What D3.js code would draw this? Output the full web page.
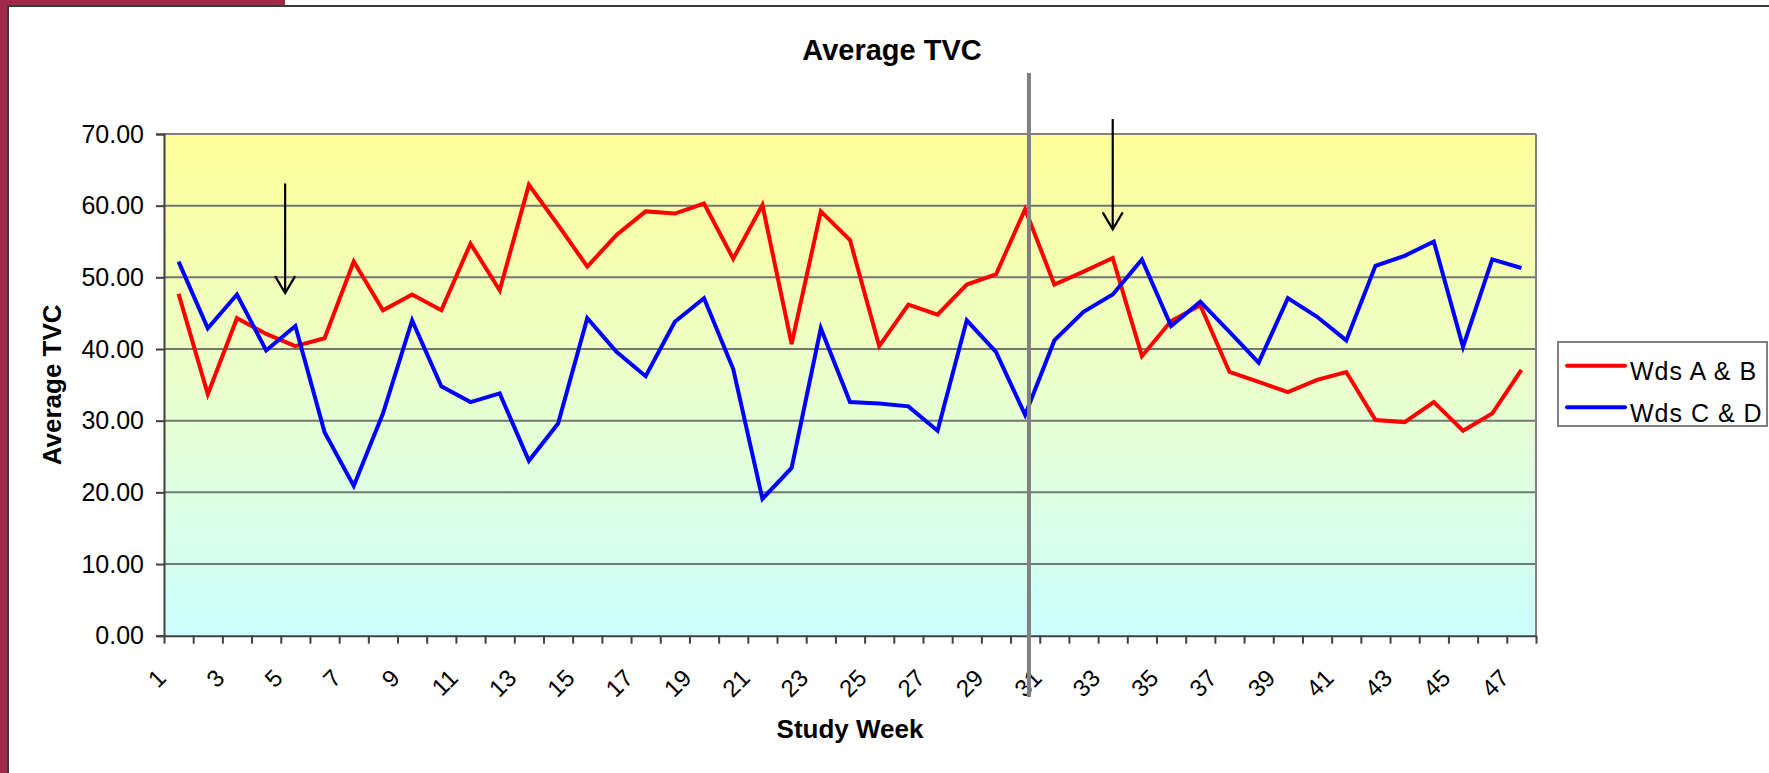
<!DOCTYPE html>
<html>
<head>
<meta charset="utf-8">
<script src="https://cdn.jsdelivr.net/npm/d3@7"></script>
<style>
  html, body { margin: 0; padding: 0; background: #fff; }
  svg { display: block; }
  text { font-family: "Liberation Sans", Arial, sans-serif; fill: #000; }
</style>
</head>
<body>
<svg id="chart" width="1769" height="773"></svg>
<script>
// ---- data ----
const weeks = [1,2,3,4,5,6,7,8,9,10,11,12,13,14,15,16,17,18,19,20,21,22,23,24,25,26,27,28,29,30,31,32,33,34,35,36,37,38,39,40,41,42,43,44,45,46,47];
const wdsAB = [47.7,33.7,44.3,42.1,40.4,41.5,52.2,45.4,47.6,45.4,54.7,48.2,
               62.9,57.3,51.5,55.9,59.2,58.9,60.3,52.6,60.1,40.7,59.2,55.2,
               40.4,46.2,44.8,49.0,50.4,59.5,49.0,50.8,52.7,39.0,43.9,
               46.1,36.8,35.4,34.0,35.7,36.8,30.1,29.8,32.6,28.6,31.0,37.1];
const wdsCD = [52.2,42.9,47.6,39.8,43.2,28.4,20.9,31.0,44.0,34.8,32.6,33.8,
               24.4,29.6,44.3,39.6,36.2,43.8,47.1,37.2,19.1,23.4,42.9,32.6,
               32.4,32.0,28.6,44.0,39.6,30.8,41.2,45.2,47.6,52.5,43.2,
               46.6,42.4,38.1,47.1,44.5,41.2,51.6,53.0,55.0,40.3,52.5,51.3];
const seriesNames = ["Wds A & B", "Wds C & D"];
const yTicks = [0,10,20,30,40,50,60,70];
const xLabelWeeks = [1,3,5,7,9,11,13,15,17,19,21,23,25,27,29,31,33,35,37,39,41,43,45,47];
// annotations (in data units: week, TVC)
const dividerWeek = 30.13, dividerTop = 78.5, dividerBottom = -8.55;
const arrowWeeks = [4.65, 33.0];
const arrowTops = [63.1, 72.1];
const arrowTips = [47.8, 56.7];
const chartTitle = "Average TVC";
const xTitle = "Study Week";
const yTitle = "Average TVC";

// ---- layout ----
const svg = d3.select("#chart");
const plot = {left: 164, right: 1536, top: 134, bottom: 635.7};
const x = d3.scaleLinear().domain([0.5, 47.5]).range([plot.left, plot.right]);
const y = d3.scaleLinear().domain([0, 70]).range([plot.bottom, plot.top]);
const colors = ["#FF0000", "#0000FF"];

// outer frame
svg.append("rect").attr("x", 0).attr("y", 0).attr("width", 1769).attr("height", 773).attr("fill", "#fff");
svg.append("rect").attr("x", 0).attr("y", 0).attr("width", 7).attr("height", 773).attr("fill", "#9E2A48");
svg.append("rect").attr("x", 0).attr("y", 0).attr("width", 285).attr("height", 5).attr("fill", "#9E2A48");
svg.append("line").attr("x1", 7).attr("x2", 1769).attr("y1", 6).attr("y2", 6).attr("stroke", "#3a3a3a").attr("stroke-width", 2);
svg.append("line").attr("x1", 8).attr("x2", 8).attr("y1", 5).attr("y2", 773).attr("stroke", "#3a3a3a").attr("stroke-width", 2);

// gradient background
const defs = svg.append("defs");
const grad = defs.append("linearGradient").attr("id", "bg").attr("x1", 0).attr("y1", 0).attr("x2", 0).attr("y2", 1);
grad.append("stop").attr("offset", "0%").attr("stop-color", "#FFFF99");
grad.append("stop").attr("offset", "50%").attr("stop-color", "#EAFFCC");
grad.append("stop").attr("offset", "100%").attr("stop-color", "#CCFFFF");
svg.append("rect")
  .attr("x", plot.left).attr("y", plot.top)
  .attr("width", plot.right - plot.left).attr("height", plot.bottom - plot.top)
  .attr("fill", "url(#bg)");

// gridlines
svg.append("g").selectAll("line").data(yTicks.filter(d => d > 0)).join("line")
  .attr("x1", plot.left).attr("x2", plot.right)
  .attr("y1", d => y(d)).attr("y2", d => y(d))
  .attr("stroke", "#707870").attr("stroke-width", 2);

// plot border (top / right)
svg.append("line").attr("x1", plot.left).attr("x2", plot.right).attr("y1", y(70)).attr("y2", y(70))
  .attr("stroke", "#808080").attr("stroke-width", 2);
svg.append("line").attr("x1", plot.right).attr("x2", plot.right).attr("y1", plot.top).attr("y2", plot.bottom)
  .attr("stroke", "#808080").attr("stroke-width", 2);

// y axis
const yAxis = d3.axisLeft(y).tickValues(yTicks).tickFormat(d3.format(".2f")).tickSize(8).tickPadding(12);
const gy = svg.append("g").attr("transform", `translate(${plot.left},0)`).call(yAxis);
gy.select(".domain").attr("stroke", "#404040").attr("stroke-width", 2);
gy.selectAll(".tick line").attr("stroke", "#404040").attr("stroke-width", 2);
gy.selectAll(".tick text").style("font-size", "25px").attr("font-family", null).attr("fill", "#000");

// x axis (category boundaries as ticks)
const boundaries = weeks.map(w => w - 0.5).concat([weeks[weeks.length - 1] + 0.5]);
const xAxis = d3.axisBottom(x).tickValues(boundaries).tickFormat("").tickSize(8).tickSizeOuter(0);
const gx = svg.append("g").attr("transform", `translate(0,${plot.bottom})`).call(xAxis);
gx.select(".domain").attr("stroke", "#404040").attr("stroke-width", 2);
gx.selectAll(".tick line").attr("stroke", "#404040").attr("stroke-width", 2);

// x labels rotated
svg.append("g").selectAll("text").data(xLabelWeeks).join("text")
  .attr("transform", d => `translate(${x(d) - 17},${plot.bottom + 38}) rotate(-45)`)
  .attr("text-anchor", "end")
  .attr("dy", "0.35em")
  .style("font-size", "24px")
  .text(d => d);

// series lines
const lineGen = d3.line().x((d, i) => x(weeks[i])).y(d => y(d)).curve(d3.curveLinear);
[wdsAB, wdsCD].forEach((s, k) => {
  svg.append("path").datum(s)
    .attr("d", lineGen)
    .attr("fill", "none")
    .attr("stroke", colors[k])
    .attr("stroke-width", 4)
    .attr("stroke-linejoin", "miter");
});

// divider line
svg.append("line")
  .attr("x1", x(dividerWeek)).attr("x2", x(dividerWeek))
  .attr("y1", y(dividerTop)).attr("y2", y(dividerBottom))
  .attr("stroke", "#808080").attr("stroke-width", 4);

// arrows
arrowWeeks.forEach((w, i) => {
  const ax = x(w), y0 = y(arrowTops[i]), y1 = y(arrowTips[i]);
  svg.append("line").attr("x1", ax).attr("x2", ax).attr("y1", y0).attr("y2", y1)
    .attr("stroke", "#000").attr("stroke-width", 2.2);
  svg.append("polyline")
    .attr("points", `${ax - 10},${y1 - 17} ${ax},${y1} ${ax + 10},${y1 - 17}`)
    .attr("fill", "none").attr("stroke", "#000").attr("stroke-width", 2.2);
});

// titles
svg.append("text").attr("x", 892).attr("y", 60).attr("text-anchor", "middle")
  .style("font-size", "29px").style("font-weight", "bold").text(chartTitle);
svg.append("text").attr("x", (plot.left + plot.right) / 2).attr("y", 738).attr("text-anchor", "middle")
  .style("font-size", "26px").style("font-weight", "bold").text(xTitle);
svg.append("text")
  .attr("transform", `translate(61,${(plot.top + plot.bottom) / 2}) rotate(-90)`)
  .attr("text-anchor", "middle")
  .style("font-size", "26px").style("font-weight", "bold").text(yTitle);

// legend
const lg = svg.append("g");
lg.append("rect").attr("x", 1558).attr("y", 342).attr("width", 209).attr("height", 84)
  .attr("fill", "#fff").attr("stroke", "#808080").attr("stroke-width", 2);
seriesNames.forEach((name, i) => {
  const ly = 365.7 + i * 41.6;
  lg.append("line").attr("x1", 1567).attr("x2", 1625).attr("y1", ly).attr("y2", ly)
    .attr("stroke", colors[i]).attr("stroke-width", 4).attr("stroke-linecap", "round");
  lg.append("text").attr("x", 1630).attr("y", ly + 6).attr("dy", "0.35em")
    .style("font-size", "25px").style("letter-spacing", "1px").text(name);
});
</script>
</body>
</html>
